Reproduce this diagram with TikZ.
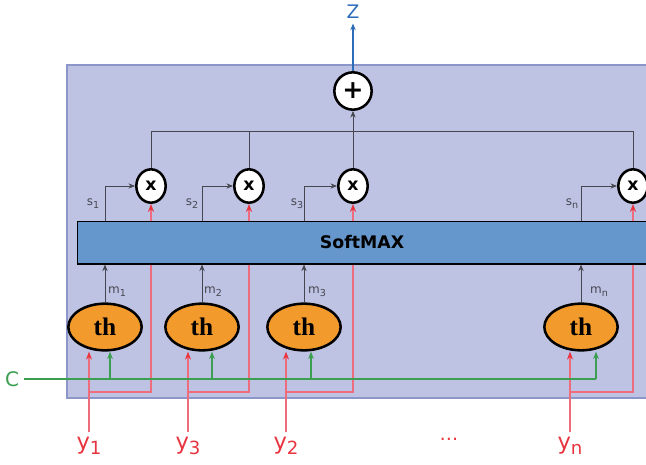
\documentclass[tikz,border=0pt]{standalone}
\usepackage{fontspec}
\setmainfont{DejaVu Sans}
\newfontfamily\thfont{Liberation Serif}
\usetikzlibrary{shapes.geometric, arrows.meta}

\definecolor{panel}{RGB}{191,195,227}
\definecolor{panelline}{RGB}{140,150,200}
\definecolor{softblue}{RGB}{101,150,204}
\definecolor{thorange}{RGB}{243,154,44}
\definecolor{wirered}{RGB}{238,108,124}
\definecolor{labelred}{RGB}{232,52,62}
\definecolor{wiregreen}{RGB}{60,158,80}
\definecolor{outblue}{RGB}{46,107,184}
\definecolor{wiregray}{RGB}{70,70,80}

% lowered index for the labels
\newcommand{\lowidx}[1]{\raisebox{-0.45ex}{\scalebox{0.8}{#1}}}

\begin{document}
\begin{tikzpicture}[x=0.75pt, y=-0.75pt, >={Stealth[length=5pt, width=4pt]},
  thnode/.style={ellipse, draw, line width=1.9pt, fill=thorange, minimum width=55pt, minimum height=35pt, inner sep=0pt, font=\thfont\bfseries\fontsize{19}{19}\selectfont},
  mulnode/.style={ellipse, draw, line width=1.9pt, fill=white, minimum width=22pt, minimum height=25pt, inner sep=0pt, font=\bfseries\fontsize{13}{13}\selectfont},
  sumnode/.style={circle, draw, line width=1.9pt, fill=white, minimum size=28pt, inner sep=0pt, font=\bfseries\fontsize{19}{19}\selectfont},
  softbox/.style={rectangle, draw, line width=1pt, fill=softblue, minimum width=427pt, minimum height=32pt, font=\bfseries\fontsize{13}{13}\selectfont},
  wire/.style={draw=wiregray, line width=0.65pt},
  redwire/.style={draw=wirered, line width=1pt, >={Stealth[length=6pt, width=4.5pt, color=labelred]}},
  greenwire/.style={draw=wiregreen, line width=0.9pt, >={Stealth[length=5.5pt, width=4.2pt]}},
  ylbl/.style={text=labelred, font=\fontsize{17}{17}\selectfont},
  smalllbl/.style={text=wiregray, font=\fontsize{9}{9}\selectfont}]
  \useasboundingbox (0,0) rectangle (646,464);

  % Attention panel
  \draw[fill=panel, draw=panelline, line width=0.9pt] (67,65) rectangle (660,398);

  % Scoring units
  \node[thnode] (th1) at (105,327) {th};
  \node[thnode] (th2) at (202,327) {th};
  \node[thnode] (th3) at (304,327) {th};
  \node[thnode] (th4) at (581,327) {th};

  % Products and sum
  \node[mulnode] (x1) at (151,186) {x};
  \node[mulnode] (x2) at (249,186) {x};
  \node[mulnode] (x3) at (353,186) {x};
  \node[mulnode] (x4) at (633,186) {x};
  \node[sumnode] (plus) at (353,91) {+};
  \node[text=outblue, font=\fontsize{14}{14}\selectfont] (z) at (353,12) {Z};

  % Inputs
  \node[ylbl] (y1) at (89,446) {y\lowidx{1}};
  \node[ylbl] (y3) at (188,446) {y\lowidx{3}};
  \node[ylbl] (y2) at (286,446) {y\lowidx{2}};
  \node[ylbl] (yn) at (570,446) {y\lowidx{n}};
  \node[text=labelred, font=\fontsize{14}{14}\selectfont] (dots) at (449,439) {\dots};
  \node[text=wiregreen, font=\fontsize{15}{15}\selectfont] (C) at (12,379) {C};

  % Red paths: input to th and around to the product
  \coordinate (rbus) at (0,392);
  \draw[redwire,->] (y1) -- (y1 |- th1.south);
  \draw[redwire,->] (y1 |- rbus) -| (x1);
  \draw[redwire,->] (y3) -- (y3 |- th2.south);
  \draw[redwire,->] (y3 |- rbus) -| (x2);
  \draw[redwire,->] (y2) -- (y2 |- th3.south);
  \draw[redwire,->] (y2 |- rbus) -| (x3);
  \draw[redwire,->] (yn) -- (yn |- th4.south);
  \draw[redwire,->] (yn |- rbus) -| (x4);

  % Context line C
  \coordinate (g1) at (110,379);
  \coordinate (g2) at (212,379);
  \coordinate (g3) at (311,379);
  \coordinate (g4) at (596,379);
  \draw[greenwire] (C) -- (g4);
  \draw[greenwire,->] (g1) -- (g1 |- th1.south);
  \draw[greenwire,->] (g2) -- (g2 |- th2.south);
  \draw[greenwire,->] (g3) -- (g3 |- th3.south);
  \draw[greenwire,->] (g4) -- (g4 |- th4.south);

  % SoftMAX layer
  \node[softbox] (soft) at (362,242.5) {SoftMAX};

  % Scores m into the softmax
  \draw[wire,->] (th1) -- (th1 |- soft.south);
  \draw[wire,->] (th2) -- (th2 |- soft.south);
  \draw[wire,->] (th3) -- (th3 |- soft.south);
  \draw[wire,->] (th4) -- (th4 |- soft.south);
  \node[smalllbl] (m1) at (117,292) {m\lowidx{1}};
  \node[smalllbl] (m2) at (213,292) {m\lowidx{2}};
  \node[smalllbl] (m3) at (317,292) {m\lowidx{3}};
  \node[smalllbl] (mn) at (599,292) {m\lowidx{n}};

  % Weights s out of the softmax
  \draw[wire,->] (th1 |- soft.north) |- (x1);
  \draw[wire,->] (th2 |- soft.north) |- (x2);
  \draw[wire,->] (th3 |- soft.north) |- (x3);
  \draw[wire,->] (th4 |- soft.north) |- (x4);
  \node[smalllbl] (s1) at (93,204) {s\lowidx{1}};
  \node[smalllbl] (s2) at (192,204) {s\lowidx{2}};
  \node[smalllbl] (s3) at (297,204) {s\lowidx{3}};
  \node[smalllbl] (sn) at (572,204) {s\lowidx{n}};

  % Sum of the weighted inputs
  \coordinate (bus) at (0,131);
  \draw[wire] (x1) |- (x4 |- bus) -- (x4);
  \draw[wire] (x2) -- (x2 |- bus);
  \draw[wire,->] (x3) -- (plus);
  \draw[draw=outblue, line width=1pt, ->] (plus) -- (z);
\end{tikzpicture}
\end{document}
